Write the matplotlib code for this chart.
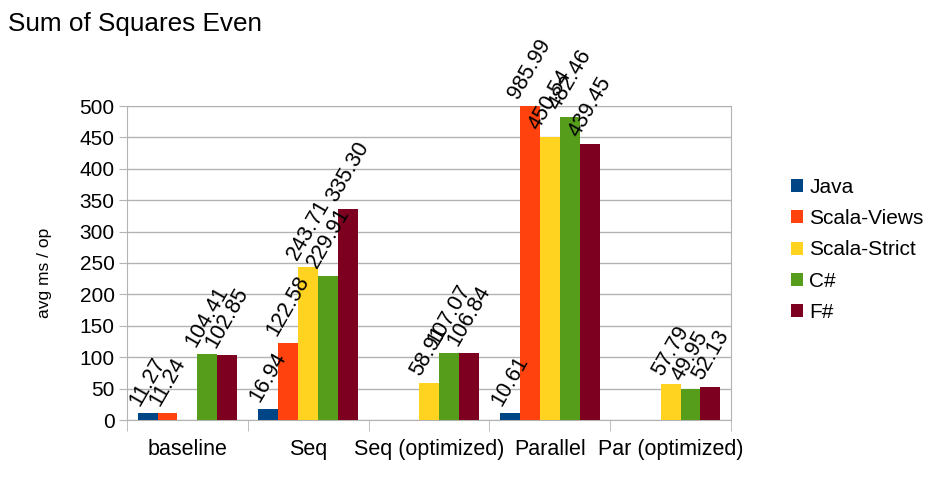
import matplotlib
matplotlib.use("Agg")
import matplotlib.pyplot as plt
import numpy as np

categories = ["baseline", "Seq", "Seq (optimized)", "Parallel", "Par (optimized)"]
series_names = ["Java", "Scala-Views", "Scala-Strict", "C#", "F#"]
java = [11.27, 16.94, None, 10.61, None]
scala_views = [11.24, 122.58, None, 985.99, None]
scala_strict = [None, 243.71, 58.91, 450.54, 57.79]
csharp = [104.41, 229.91, 107.07, 482.46, 49.95]
fsharp = [102.85, 335.30, 106.84, 439.45, 52.13]
series = [java, scala_views, scala_strict, csharp, fsharp]
colors = ["#004586", "#ff420e", "#ffd320", "#579d1c", "#7e0021"]
y_ticks = list(range(0, 501, 50))

plt.rcParams['font.family'] = ['Liberation Sans', 'DejaVu Sans']
fig = plt.figure(figsize=(9.46, 4.95), dpi=100)
ax = fig.add_axes([127/946, 75/495, (731-127)/946, (420-106)/495])

ymax = 500
bw = 0.165
n = len(series)
x = np.arange(len(categories))
for i, (vals, c, name) in enumerate(zip(series, colors, series_names)):
    off = (i - (n - 1) / 2) * bw
    xs = [xi + off for xi, v in zip(x, vals) if v is not None]
    vs = [v for v in vals if v is not None]
    ax.bar(xs, vs, width=bw, color=c, label=name, zorder=3)
    for xx, v in zip(xs, vs):
        ax.text(xx, min(v, ymax) + 6, f"{v:.2f}", rotation=60, ha='center', va='bottom',
                fontsize=15.5, clip_on=False, zorder=5)

ax.set_xlim(-0.5, len(categories) - 0.5)
ax.set_ylim(0, ymax)
ax.set_yticks(y_ticks)
ax.set_yticklabels([str(t) for t in y_ticks], fontsize=15)
ax.set_xticks(x)
ax.set_xticklabels(categories, fontsize=15.5)
ax.set_xticks(np.arange(-0.5, len(categories)), minor=True)
ax.tick_params(axis='x', which='major', length=0, pad=14)
ax.tick_params(axis='x', which='minor', length=8, color='#b3b3b3')
ax.tick_params(axis='y', length=6, color='#b3b3b3', pad=3)
ax.yaxis.grid(True, color='#b3b3b3', linewidth=1, zorder=0)
ax.set_axisbelow(True)
for s in ax.spines.values():
    s.set_color('#b3b3b3')

fig.text(44/946, 1 - 273/495, "avg ms / op", fontsize=12.5, rotation=90, va='center', ha='center')
fig.text(8/946, 1 - 24/495, "Sum of Squares Even", fontsize=18.8, va='center', ha='left')

leg = ax.legend(loc='center left', bbox_to_anchor=(791/946, 245/495), bbox_transform=fig.transFigure,
                frameon=False, fontsize=15, handlelength=0.58, handleheight=0.58,
                handletextpad=0.3, labelspacing=0.59, borderpad=0, borderaxespad=0)

fig.savefig("out.png", dpi=100)
